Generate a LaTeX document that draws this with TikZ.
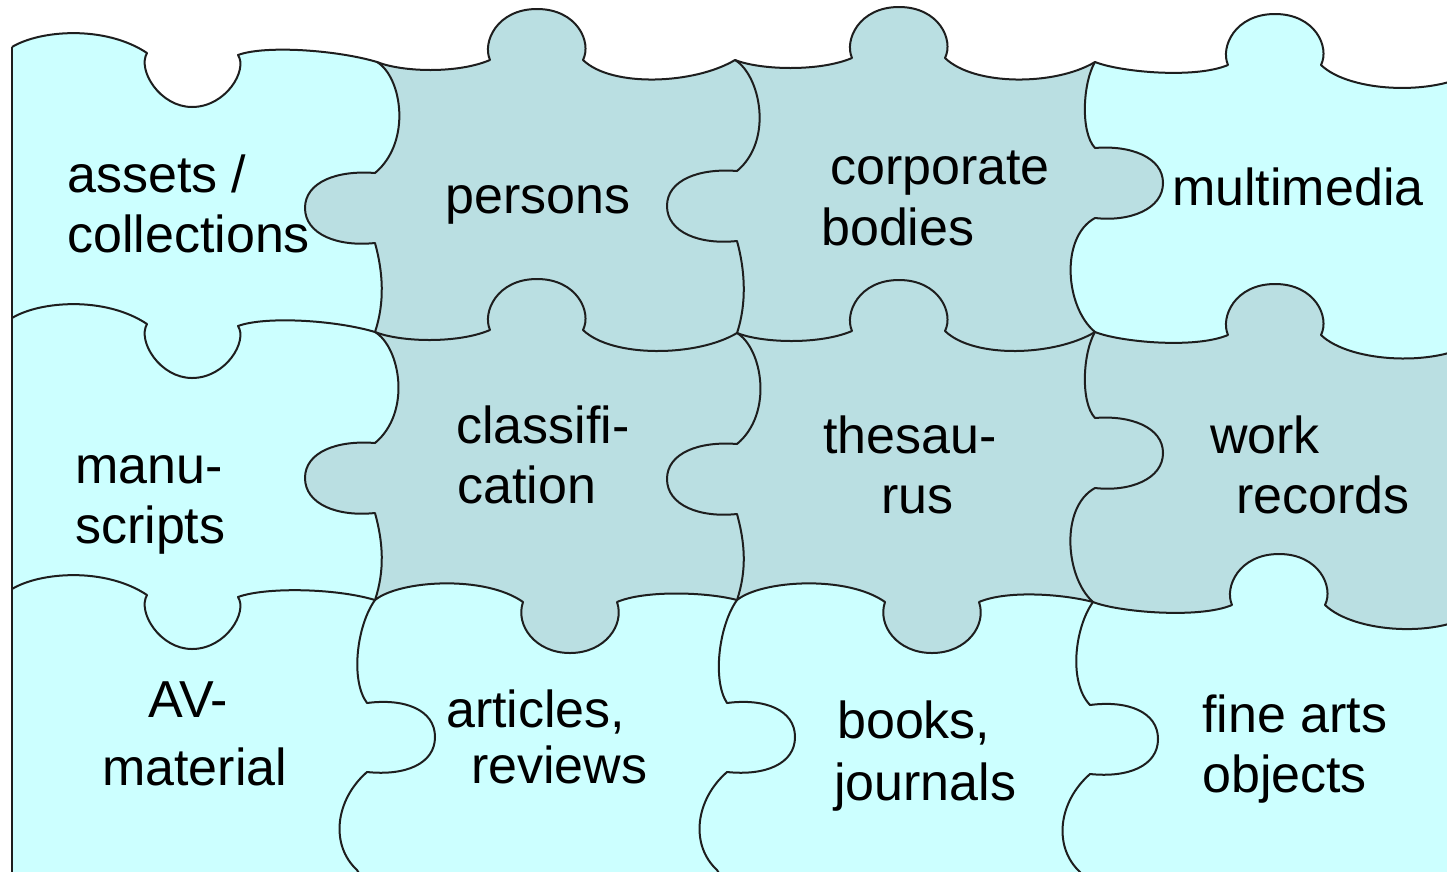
\documentclass[tikz,border=0pt]{standalone}
\usepackage{fontspec}
\setmainfont{Liberation Sans}
\definecolor{pcyan}{RGB}{204,255,255}
\definecolor{pgrey}{RGB}{186,223,226}
\definecolor{pline}{RGB}{30,30,30}
% horizontal edge, column 1 type (hump, knob down, hump)
\newcommand\pzHA[4]{ .. controls (#1+28,#2-17) and (#1+93,#2-22) .. (#1+135,#2+6)
 .. controls (#1+125,#2+23) and (#1+148,#2+60) .. (#1+180,#2+60)
 .. controls (#1+214,#2+60) and (#1+236,#2+23) .. (#1+226,#2+8)
 .. controls (#1+253,#2-2) and (#3-40,#4-12) .. (#3,#4)}
% horizontal edge (dip, knob up, dip)
\newcommand\pzHB[6]{ .. controls (#1+25,#2+10) and (#1+80+#5,#2+12+#6) .. (#1+113+#5,#2-2+#6)
 .. controls (#1+105+#5,#2-20+#6) and (#1+120+#5,#2-53+#6) .. (#1+160+#5,#2-53+#6)
 .. controls (#1+200+#5,#2-53+#6) and (#1+215+#5,#2-20+#6) .. (#1+206+#5,#2-2+#6)
 .. controls (#1+235+#5,#2+26+#6) and (#3-40,#4+24+#6) .. (#3,#4)}
% horizontal edge (hump, knob down, hump)
\newcommand\pzHC[4]{ .. controls (#1+25,#2-20) and (#1+110,#2-25) .. (#1+148,#2+2)
 .. controls (#1+140,#2+25) and (#1+160,#2+53) .. (#1+195,#2+53)
 .. controls (#1+230,#2+53) and (#1+250,#2+25) .. (#1+242,#2+2)
 .. controls (#1+270,#2-10) and (#3-30,#4-8) .. (#3,#4)}
% vertical edge (bulge right, knob left, bulge right)
\newcommand\pzVA[4]{ .. controls (#1+25,#2+15) and (#3+37,#2+80) .. (#3,#2+111)
 .. controls (#3-38,#2+108) and (#3-70,#2+120) .. (#3-70,#2+146)
 .. controls (#3-70,#2+172) and (#3-38,#2+185) .. (#3,#2+181)
 .. controls (#3+8,#2+210) and (#3+10,#4-30) .. (#3,#4)}
% vertical edge, bottom row (bulge left, knob right, bulge left)
\newcommand\pzVB[3]{ .. controls (#1-18,#2+25) and (#1-25,#2+80) .. (#3,#2+103)
 .. controls (#3+38,#2+98) and (#3+68,#2+110) .. (#3+68,#2+137)
 .. controls (#3+68,#2+164) and (#3+38,#2+176) .. (#3,#2+172)
 .. controls (#3-32,#2+200) and (#3-37,#2+245) .. (#3-10,#2+270)
 .. controls (#3-4,#2+280) and (#3+4,#2+290) .. (#3+8,#2+300)}
% vertical edge (bulge left, knob right, bulge left)
\newcommand\pzVC[4]{ .. controls (#1-12,#2+20) and (#1-15,#2+70) .. (#1,#2+86)
 .. controls (#1+35,#2+83) and (#1+68,#2+95) .. (#1+68,#2+121)
 .. controls (#1+68,#2+147) and (#1+35,#2+160) .. (#1,#2+156)
 .. controls (#1-35,#2+175) and (#1-30,#2+245) .. (#3,#4)}
% full seams
\newcommand\pzTop{\pzHA{12}{47}{377}{62}\pzHB{377}{62}{735}{60}{0}{0}\pzHB{735}{60}{1095}{62}{4}{0}\pzHB{1095}{62}{1480}{68}{20}{5}}
\newcommand\pzHone{\pzHA{12}{318}{375}{332}\pzHB{375}{332}{737}{333}{2}{0}\pzHB{737}{333}{1095}{332}{2}{0}\pzHB{1095}{332}{1480}{339}{20}{5}}
\newcommand\pzHtwo{\pzHA{12}{589}{375}{600}\pzHC{375}{600}{737}{600}\pzHC{737}{600}{1093}{602}\pzHB{1093}{602}{1480}{610}{26}{5}}
\newcommand\pzVone{\pzVA{377}{62}{375}{332}\pzVA{375}{332}{375}{600}\pzVB{375}{600}{367}}
\newcommand\pzVtwo{\pzVA{735}{60}{737}{333}\pzVA{737}{333}{737}{600}\pzVB{737}{600}{727}}
\newcommand\pzVthree{\pzVC{1095}{62}{1095}{332}\pzVC{1095}{332}{1093}{602}\pzVB{1093}{602}{1090}}
\tikzset{
  seam/.style={draw=pline, line width=2pt, line join=round},
  lbl/.style={anchor=base west, inner sep=0pt, text=black, font=\fontsize{52pt}{60pt}\selectfont}
}
\begin{document}
\begin{tikzpicture}[x=1pt,y=-1pt]
\useasboundingbox (0,0) rectangle (1447,871);
\clip (0,0) rectangle (1447,871);
\fill[white] (0,0) rectangle (1447,871);
% cyan base
\fill[pcyan] (12,47) \pzTop -- (1500,68) -- (1500,950) -- (12,950) -- cycle;
% grey pieces: persons, corporate bodies, classification, thesaurus
\begin{scope}
\clip (377,-20) -- (377,62) \pzVone -- (1500,950) -- (1500,-20) -- cycle;
\clip (1095,-20) -- (1095,62) \pzVthree -- (-20,950) -- (-20,-20) -- cycle;
\clip (-20,589) -- (12,589) \pzHtwo -- (1500,610) -- (1500,-20) -- (-20,-20) -- cycle;
\fill[pgrey] (12,47) \pzTop -- (1500,68) -- (1500,950) -- (12,950) -- cycle;
\end{scope}
% grey piece: work records
\begin{scope}
\clip (1095,-20) -- (1095,62) \pzVthree -- (1500,950) -- (1500,-20) -- cycle;
\clip (-20,318) -- (12,318) \pzHone -- (1500,339) -- (1500,950) -- (-20,950) -- cycle;
\fill[pgrey] (-20,589) -- (12,589) \pzHtwo -- (1500,610) -- (1500,-20) -- (-20,-20) -- cycle;
\end{scope}
% seams
\draw[seam] (12,47) \pzTop;
\draw[seam] (12,47) -- (12,900);
\draw[seam] (12,318) \pzHone;
\draw[seam] (12,589) \pzHtwo;
\draw[seam] (377,62) \pzVone;
\draw[seam] (735,60) \pzVtwo;
\draw[seam] (1095,62) \pzVthree;
% labels
\node[lbl] (assets) at (67,192) {assets /};
\node[lbl] (collections) at (67,252) {collections};
\node[lbl] (persons) at (445,213) {persons};
\node[lbl] (corporate) at (830,184) {corporate};
\node[lbl] (bodies) at (821,245) {bodies};
\node[lbl] (multimedia) at (1172,205) {multimedia};
\node[lbl] (manu) at (75,483) {manu-};
\node[lbl] (scripts) at (75,543) {scripts};
\node[lbl] (classifi) at (456,443) {classifi-};
\node[lbl] (cation) at (457,503) {cation};
\node[lbl] (thesau) at (823,453) {thesau-};
\node[lbl] (rus) at (881,513) {rus};
\node[lbl] (work) at (1210,453) {work};
\node[lbl] (records) at (1236,513) {records};
\node[lbl] (av) at (148,717) {AV-};
\node[lbl] (material) at (102,785) {material};
\node[lbl] (articles) at (446,727) {articles,};
\node[lbl] (reviews) at (471,783) {reviews};
\node[lbl] (books) at (837,738) {books,};
\node[lbl] (journals) at (834,800) {journals};
\node[lbl] (finearts) at (1202,732) {fine arts};
\node[lbl] (objects) at (1202,792) {objects};
\end{tikzpicture}
\end{document}
